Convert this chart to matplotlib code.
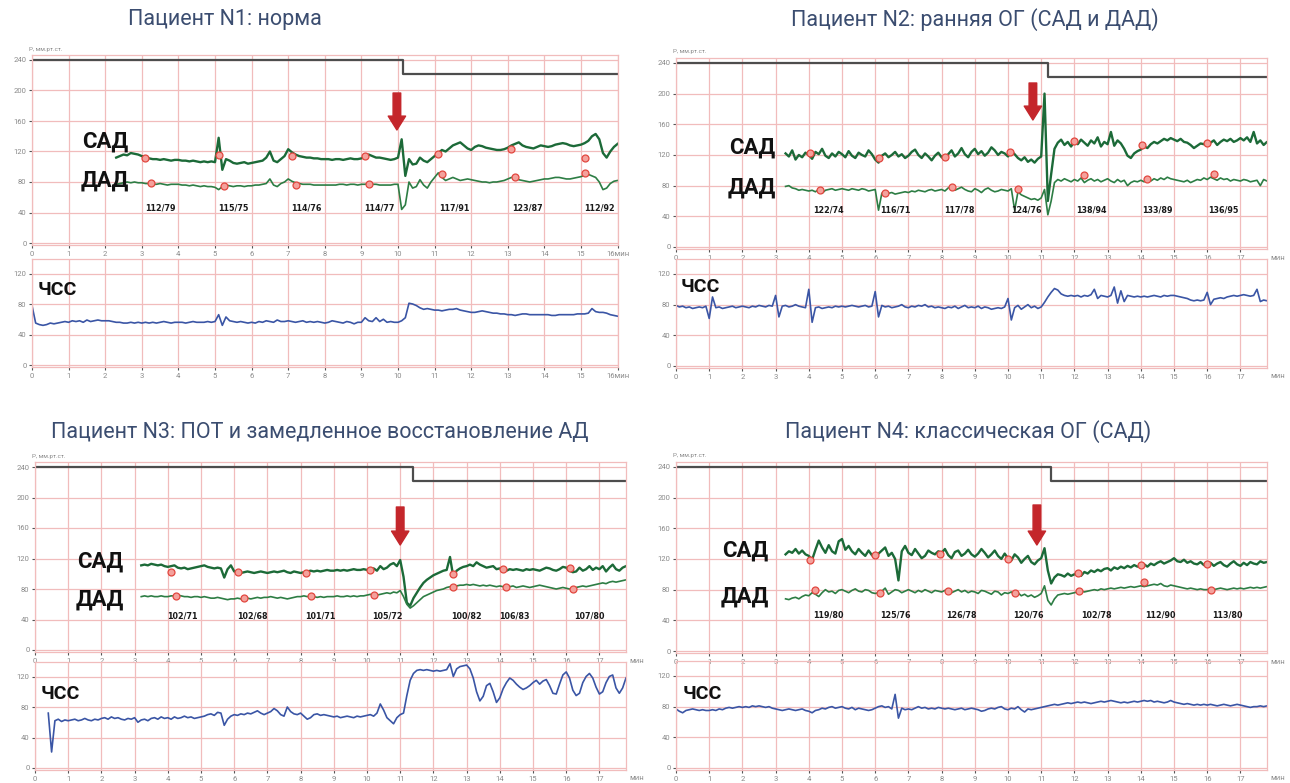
import numpy as np
import matplotlib
matplotlib.use('Agg')
import matplotlib.pyplot as plt

W, H = 1290, 783
DT = 0.1  # sampling step of traces, minutes

plt.rcParams['font.family'] = ['Roboto', 'DejaVu Sans']

titles = ['Пациент N1: норма',
          'Пациент N2: ранняя ОГ (САД и ДАД)',
          'Пациент N3: ПОТ и замедленное восстановление АД',
          'Пациент N4: классическая ОГ (САД)']

# ---------------- patient 1 ----------------
p1_bp_start = 2.3
p1_sad = [112, 114, 116, 115, 118, 117, 116,
          114, 113, 111, 110, 110, 109, 110, 109, 108, 109,
          109, 108, 108, 107, 108, 107, 106, 107, 106, 107,
          106, 138, 96, 110, 108, 105, 104, 105, 106, 104,
          105, 106, 107, 108, 112, 120, 108, 106, 110, 114,
          123, 119, 116, 114, 113, 112, 112, 111, 111, 110,
          110, 110, 109, 110, 110, 109, 110, 111, 110, 110,
          111, 113, 116, 114, 112, 112, 111, 110, 109, 110,
          112, 136, 88, 110, 103, 104, 112, 108, 106, 110,
          114, 118, 122, 120, 124, 128, 130, 132, 128, 124,
          122, 126, 128, 127, 125, 124, 123, 122, 122, 123,
          125, 128, 130, 132, 128, 126, 125, 124, 126, 128,
          127, 126, 127, 129, 130, 131, 130, 128, 127, 128,
          129, 131, 134, 140, 143, 136, 118, 112, 120, 126,
          130]
p1_dad = [77, 78, 79, 80, 79, 80, 79,
          79, 78, 78, 77, 77, 78, 77, 76, 77, 77,
          77, 76, 76, 75, 76, 75, 74, 75, 74, 74,
          73, 70, 74, 76, 75, 74, 75, 75, 74, 75,
          75, 76, 76, 77, 78, 84, 76, 74, 78, 80,
          84, 81, 79, 78, 77, 77, 77, 76, 76, 76,
          76, 76, 76, 76, 77, 77, 76, 77, 77, 76,
          77, 77, 78, 77, 77, 76, 76, 76, 76, 77,
          77, 44, 50, 80, 72, 74, 83, 76, 72, 80,
          86, 92, 86, 82, 84, 86, 84, 82, 83, 84,
          83, 82, 81, 80, 80, 79, 80, 80, 81, 82,
          84, 86, 85, 83, 82, 81, 80, 81, 82, 83,
          84, 84, 85, 86, 86, 85, 84, 84, 85, 86,
          87, 89, 90, 88, 86, 80, 70, 72, 78, 81,
          82]
p1_hr_start = 0.0
p1_hr = [78, 55, 53, 52, 53, 55, 54, 55, 56, 57,
         56, 58, 57, 58, 56, 59, 57, 58, 59, 58,
         58, 58, 57, 56, 56, 55, 55, 56, 55, 56,
         55, 56, 55, 56, 55, 56, 57, 56, 55, 56,
         56, 56, 55, 56, 57, 56, 56, 56, 57, 56,
         57, 66, 52, 63, 58, 57, 56, 57, 56, 55,
         56, 55, 57, 56, 58, 57, 56, 59, 57, 57,
         58, 57, 56, 57, 58, 56, 57, 56, 57, 56,
         55, 56, 58, 57, 56, 55, 57, 56, 54, 56,
         56, 62, 58, 57, 62, 57, 60, 56, 57, 56,
         56, 58, 62, 81, 80, 78, 75, 73, 74, 73,
         72, 72, 71, 72, 73, 73, 74, 72, 71, 70,
         69, 69, 70, 71, 70, 69, 68, 68, 67, 67,
         66, 66, 65, 66, 67, 67, 66, 66, 66, 66,
         66, 66, 65, 65, 66, 66, 66, 66, 66, 67,
         67, 67, 68, 74, 70, 69, 69, 68, 66, 65,
         64]
p1_sad_mark_t = [3.1, 5.1, 7.1, 9.1, 11.1, 13.1, 15.1]
p1_dad_mark_t = [3.25, 5.25, 7.2, 9.2, 11.2, 13.2, 15.1]
p1_sad_mark = [112, 115, 114, 114, 117, 123, 112]
p1_dad_mark = [79, 75, 76, 77, 91, 87, 92]
p1_label_t = [3.5, 5.5, 7.5, 9.5, 11.55, 13.55, 15.5]
p1_tilt_t = [0, 10.15, 10.15, 16]
p1_tilt_v = [240, 240, 222, 222]

# ---------------- patient 2 ----------------
p2_bp_start = 3.3
p2_sad = [122, 118, 126, 114, 120, 117, 123,
          120, 115, 124, 121, 128, 119, 116, 122, 118, 124,
          121, 117, 125, 119, 116, 123, 120, 118, 126, 121,
          114, 110, 119, 122, 117, 120, 124, 118, 121, 116,
          119, 124, 127, 120, 116, 122, 118, 113, 119, 123,
          117, 115, 121, 126, 118, 122, 129, 121, 117, 124,
          128, 121, 125, 119, 123, 130, 126, 120, 124, 122,
          118, 125, 121, 116, 113, 117, 111, 114, 110, 115,
          118, 200, 60, 95, 128, 136, 140, 133, 137, 131,
          138, 134, 140, 136, 132, 139, 135, 143, 131, 137,
          134, 150, 132, 139, 135, 128, 119, 116, 122, 125,
          127, 131, 129, 134, 137, 135, 138, 141, 139, 142,
          140, 138, 141, 137, 136, 133, 129, 132, 135, 134,
          138, 136, 139, 133, 137, 140, 138, 141, 137, 139,
          142, 139, 143, 137, 150, 135, 139, 133, 137, 134]
p2_dad = [79, 80, 77, 76, 74, 75, 74,
          73, 74, 72, 75, 70, 74, 75, 76, 74, 75,
          76, 75, 74, 76, 75, 74, 76, 75, 73, 74,
          75, 48, 70, 73, 70, 71, 69, 70, 71, 72,
          71, 73, 72, 74, 73, 72, 74, 75, 73, 74,
          75, 73, 77, 79, 74, 76, 78, 75, 73, 72,
          76, 74, 71, 75, 77, 74, 72, 73, 75, 74,
          73, 76, 48, 72, 68, 66, 64, 62, 63, 61,
          64, 75, 42, 60, 84, 88, 86, 89, 87, 85,
          88, 86, 90, 84, 87, 89, 86, 88, 85, 87,
          89, 86, 84, 88, 85, 87, 80, 84, 86, 85,
          87, 85, 88, 86, 89, 87, 90, 88, 91, 89,
          88, 87, 86, 85, 87, 84, 86, 88, 87, 90,
          88, 91, 89, 87, 90, 88, 89, 86, 88, 87,
          86, 88, 87, 85, 86, 87, 80, 88, 86, 87]
p2_hr_start = 0.0
p2_hr = [79, 77, 78, 76, 77, 75, 76, 77, 76, 78,
         62, 90, 76, 77, 75, 76, 77, 78, 76, 77,
         78, 77, 76, 78, 77, 79, 78, 77, 79, 78,
         92, 64, 78, 79, 77, 78, 80, 78, 77, 76,
         100, 57, 76, 77, 75, 76, 77, 76, 78, 77,
         78, 77, 78, 79, 78, 77, 78, 79, 77, 78,
         97, 64, 79, 77, 78, 76, 77, 78, 80, 77,
         76, 78, 77, 79, 78, 80, 77, 78, 76, 77,
         76, 75, 77, 76, 78, 75, 77, 79, 76, 77,
         76, 78, 75, 77, 76, 74, 75, 76, 75, 77,
         88, 60, 76, 79, 74, 77, 80, 76, 78, 75,
         77, 83, 90, 96, 101, 99, 94, 92, 91, 92,
         91, 92, 90, 92, 91, 93, 100, 88, 92, 91,
         90, 92, 103, 82, 98, 84, 92, 91, 90, 91,
         90, 91, 90, 91, 92, 91, 90, 92, 91, 92,
         92, 91, 90, 89, 88, 86, 85, 86, 85, 86,
         96, 80, 87, 88, 89, 88, 90, 91, 92, 91,
         92, 93, 92, 91, 92, 100, 84, 86, 85, 89]
p2_sad_mark_t = [4.05, 6.1, 8.1, 10.05, 12.0, 14.05, 16.0]
p2_dad_mark_t = [4.35, 6.3, 8.3, 10.3, 12.3, 14.2, 16.2]
p2_sad_mark = [122, 116, 117, 124, 138, 133, 136]
p2_dad_mark = [74, 71, 78, 76, 94, 89, 95]
p2_label_t = [4.6, 6.6, 8.55, 10.55, 12.5, 14.5, 16.5]
p2_tilt_t = [0, 11.2, 11.2, 17.8]
p2_tilt_v = [240, 240, 221, 221]

# ---------------- patient 3 ----------------
p3_bp_start = 3.2
p3_sad = [111, 112, 111, 113, 112, 111, 112, 110,
          109, 110, 111, 108, 107, 108, 106, 107, 108, 109,
          110, 111, 109, 108, 107, 108, 107, 95, 106, 111,
          103, 102, 101, 102, 103, 102, 101, 102, 103, 102,
          101, 102, 103, 102, 103, 104, 102, 101, 103, 102,
          101, 102, 103, 104, 103, 104, 103, 104, 105, 104,
          104, 105, 104, 105, 104, 105, 106, 105, 105, 106,
          105, 106, 107, 104, 110, 106, 108, 112, 114, 110,
          118, 96, 62, 58, 68, 75, 82, 88, 92, 95,
          98, 100, 102, 104, 105, 122, 96, 104, 107, 109,
          110, 112, 110, 115, 112, 110, 108, 109, 110, 106,
          107, 105, 104, 106, 105, 106, 105, 104, 106, 105,
          106, 105, 104, 106, 108, 107, 105, 104, 106, 109,
          108, 104, 102, 103, 108, 104, 106, 110, 105, 108,
          106, 110, 103, 108, 112, 106, 104, 108, 110, 112]
p3_dad = [70, 71, 70, 71, 70, 70, 71, 70,
          70, 71, 71, 72, 71, 70, 70, 69, 70, 70,
          69, 70, 69, 68, 68, 69, 68, 67, 66, 67,
          67, 68, 67, 68, 68, 67, 68, 69, 68, 69,
          69, 70, 69, 68, 69, 68, 67, 68, 69, 70,
          70, 71, 70, 71, 70, 69, 70, 69, 70, 70,
          70, 71, 70, 70, 71, 70, 71, 70, 71, 71,
          72, 73, 72, 72, 73, 74, 75, 74, 76, 75,
          78, 70, 60, 55, 58, 62, 66, 70, 72, 74,
          76, 78, 79, 80, 82, 83, 84, 84, 85, 85,
          86, 85, 86, 85, 84, 85, 84, 85, 84, 83,
          84, 83, 84, 83, 84, 82, 83, 84, 83, 82,
          83, 84, 85, 84, 83, 82, 81, 80, 81, 82,
          81, 80, 81, 82, 83, 84, 83, 84, 85, 86,
          87, 88, 87, 89, 90, 89, 90, 91, 92, 92]
p3_hr_start = 0.4
p3_hr = [72, 21, 62, 64, 61, 63,
         62, 63, 64, 62, 63, 65, 63, 62, 64, 63,
         65, 66, 64, 67, 65, 66, 64, 63, 65, 64,
         66, 60, 63, 64, 62, 65, 66, 64, 67, 65,
         66, 64, 67, 65, 66, 68, 66, 67, 65, 66,
         67, 68, 70, 71, 69, 73, 72, 56, 64, 68,
         70, 69, 71, 70, 72, 71, 73, 75, 72, 70,
         72, 74, 78, 75, 70, 68, 80, 74, 71, 70,
         72, 68, 64, 66, 70, 71, 69, 70, 69, 68,
         67, 68, 66, 67, 68, 67, 66, 68, 67, 68,
         69, 70, 68, 72, 84, 76, 66, 62, 58, 66,
         70, 72, 95, 115, 124, 128, 129, 128, 129, 128,
         127, 128, 127, 128, 129, 137, 120, 130, 133, 134,
         135, 130, 118, 100, 88, 94, 108, 111, 100, 86,
         92, 104, 112, 118, 115, 110, 106, 103, 105, 108,
         112, 115, 110, 114, 116, 108, 98, 97, 110, 122,
         126, 118, 102, 95, 98, 112, 120, 124, 118, 106,
         97, 100, 112, 120, 122, 105, 98, 105, 118, 124]
p3_sad_mark_t = [4.1, 6.1, 8.15, 10.1, 12.6, 14.1, 16.1]
p3_dad_mark_t = [4.25, 6.3, 8.3, 10.2, 12.6, 14.2, 16.2]
p3_sad_mark = [102, 102, 101, 105, 100, 106, 107]
p3_dad_mark = [71, 68, 71, 72, 82, 83, 80]
p3_label_t = [4.45, 6.55, 8.6, 10.6, 13.0, 14.45, 16.7]
p3_tilt_t = [0, 11.4, 11.4, 17.8]
p3_tilt_v = [240, 240, 222, 222]

# ---------------- patient 4 ----------------
p4_bp_start = 3.3
p4_sad = [126, 130, 128, 133, 127, 131, 126,
          124, 119, 132, 144, 135, 128, 138, 130, 127, 143,
          146, 132, 137, 130, 126, 133, 128, 124, 131, 125,
          122, 127, 131, 135, 124, 128, 120, 92, 130, 137,
          128, 125, 133, 127, 121, 124, 131, 128, 126, 130,
          128, 133, 125, 121, 129, 131, 124, 127, 132, 126,
          123, 127, 133, 128, 122, 126, 131, 124, 120, 127,
          121, 118, 126, 122, 115, 120, 124, 116, 113, 118,
          121, 134, 105, 88, 96, 100, 99, 97, 101, 98,
          100, 102, 98, 103, 101, 105, 103, 106, 104, 107,
          108, 105, 109, 107, 110, 108, 111, 109, 112, 110,
          111, 113, 110, 114, 112, 115, 117, 114, 116, 118,
          121, 117, 116, 119, 115, 117, 114, 113, 116, 112,
          113, 115, 111, 114, 116, 112, 110, 114, 117, 113,
          111, 115, 112, 116, 114, 113, 117, 115, 116, 118]
p4_dad = [68, 67, 69, 70, 68, 71, 73,
          72, 76, 74, 71, 76, 80, 77, 78, 75, 79,
          80, 78, 76, 79, 81, 78, 77, 80, 79, 76,
          75, 76, 78, 82, 74, 77, 80, 79, 76, 78,
          80, 78, 76, 79, 77, 80, 78, 76, 79, 78,
          77, 79, 81, 76, 78, 80, 77, 79, 76, 78,
          77, 75, 79, 78, 76, 74, 78, 77, 73, 76,
          75, 77, 73, 76, 72, 74, 71, 73, 70, 72,
          75, 85, 66, 60, 68, 73, 74, 75, 74, 75,
          76, 77, 78, 77, 78, 79, 80, 79, 81, 80,
          81, 82, 81, 82, 83, 82, 83, 84, 83, 84,
          85, 84, 85, 86, 87, 86, 88, 85, 84, 86,
          85, 84, 83, 82, 81, 82, 81, 80, 81, 80,
          80, 81, 80, 81, 82, 81, 80, 81, 82, 81,
          82, 81, 82, 83, 82, 83, 82, 83, 84, 84]
p4_hr_start = 0.0
p4_hr = [77, 74, 72, 75, 76, 77, 76, 75, 76, 75,
         75, 76, 75, 77, 76, 78, 79, 78, 79, 80,
         79, 80, 79, 81, 80, 81, 80, 79, 80, 78,
         77, 76, 75, 76, 77, 76, 75, 76, 77, 75,
         74, 72, 75, 76, 78, 77, 79, 80, 78, 79,
         80, 78, 77, 79, 76, 78, 77, 76, 75, 76,
         78, 80, 81, 79, 80, 77, 96, 65, 78, 76,
         77, 76, 78, 80, 78, 79, 77, 78, 77, 79,
         78, 77, 78, 77, 76, 77, 78, 76, 77, 78,
         77, 76, 74, 75, 77, 78, 77, 79, 80, 77,
         76, 78, 77, 80, 76, 73, 77, 76, 77, 78,
         79, 80, 81, 82, 83, 82, 83, 84, 85, 84,
         85, 86, 85, 86, 85, 84, 85, 86, 87, 86,
         87, 88, 87, 86, 85, 86, 85, 86, 87, 86,
         87, 88, 87, 88, 86, 87, 86, 85, 86, 88,
         86, 85, 84, 83, 84, 83, 82, 83, 82, 83,
         82, 83, 82, 81, 82, 83, 82, 81, 82, 83,
         82, 81, 80, 79, 80, 80, 81, 80, 81, 81]
p4_sad_mark_t = [4.05, 6.0, 7.95, 10.0, 12.1, 14.0, 16.0]
p4_dad_mark_t = [4.2, 6.15, 8.2, 10.2, 12.15, 14.1, 16.1]
p4_sad_mark = [119, 125, 126, 120, 102, 112, 113]
p4_dad_mark = [80, 76, 78, 76, 78, 90, 80]
p4_label_t = [4.6, 6.6, 8.6, 10.6, 12.65, 14.6, 16.6]
p4_tilt_t = [0, 11.3, 11.3, 17.8]
p4_tilt_v = [240, 240, 221, 221]

# arrow (orthostatic test start) x position and label heights
arrow_t = [9.97, 10.75, 11.0, 10.87]
label_y = [46, 48, 44, 47]

# ---------------- layout (pixels) ----------------
# x0 px of minute 0, px per minute, xmax, bp zero px, hr zero px, px per unit
layout = [
    dict(x0=32, ppm=36.6, xmax=16, bp0=243, hr0=365, ppu=0.7625, title=(225, 20),
         sad_lbl=(105, 142), dad_lbl=(105, 181), hr_lbl=(57, 290), arrow=(93, 130)),
    dict(x0=676, ppm=33.2, xmax=17.8, bp0=247, hr0=366, ppu=0.767, title=(975, 20),
         sad_lbl=(752, 148), dad_lbl=(752, 188), hr_lbl=(700, 287), arrow=(83, 120)),
    dict(x0=35, ppm=33.2, xmax=17.8, bp0=650, hr0=768, ppu=0.7625, title=(320, 432),
         sad_lbl=(100, 562), dad_lbl=(100, 600), hr_lbl=(60, 694), arrow=(507, 545)),
    dict(x0=676, ppm=33.2, xmax=17.8, bp0=651, hr0=768, ppu=0.767, title=(968, 432),
         sad_lbl=(745, 551), dad_lbl=(745, 597), hr_lbl=(702, 694), arrow=(505, 545)),
]

panels = [
    (p1_bp_start, p1_sad, p1_dad, p1_hr_start, p1_hr, p1_sad_mark_t, p1_dad_mark_t,
     p1_sad_mark, p1_dad_mark, p1_label_t, p1_tilt_t, p1_tilt_v),
    (p2_bp_start, p2_sad, p2_dad, p2_hr_start, p2_hr, p2_sad_mark_t, p2_dad_mark_t,
     p2_sad_mark, p2_dad_mark, p2_label_t, p2_tilt_t, p2_tilt_v),
    (p3_bp_start, p3_sad, p3_dad, p3_hr_start, p3_hr, p3_sad_mark_t, p3_dad_mark_t,
     p3_sad_mark, p3_dad_mark, p3_label_t, p3_tilt_t, p3_tilt_v),
    (p4_bp_start, p4_sad, p4_dad, p4_hr_start, p4_hr, p4_sad_mark_t, p4_dad_mark_t,
     p4_sad_mark, p4_dad_mark, p4_label_t, p4_tilt_t, p4_tilt_v),
]

GRID = '#f1bcbc'
SAD_C = '#1c6a38'
DAD_C = '#2d7d44'
HR_C = '#3a55a5'
ARROW_C = '#c4262b'
TITLE_C = '#3b4d70'


def trace_t(start, vals):
    return start + DT * np.arange(len(vals))


def px_axes(fig, left, top, right, bottom):
    ax = fig.add_axes([left / W, 1 - bottom / H, (right - left) / W, (bottom - top) / H])
    ax.patch.set_visible(False)
    return ax


def style_axes(ax, xmax, yticks, xlabels):
    ax.set_xlim(0, xmax)
    ax.set_xticks(range(len(xlabels)))
    ax.set_xticklabels(xlabels)
    ax.set_yticks(yticks)
    ax.grid(True, color=GRID, lw=0.9)
    ax.set_axisbelow(True)
    for s in ax.spines.values():
        s.set_color(GRID)
        s.set_linewidth(0.9)
    ax.tick_params(axis='both', length=2.5, width=0.8, color='#555555',
                   labelsize=5.5, labelcolor='#8a8a8a', pad=1.5)


def ftext(x, y, s, **kw):
    return plt.gcf().text(x / W, 1 - y / H, s, **kw)


fig = plt.figure(figsize=(W / 100, H / 100), dpi=100)

for i, (cfg, pdata) in enumerate(zip(layout, panels)):
    (bp_start, sad, dad, hr_start, hr, sad_mt, dad_mt, sad_m, dad_m,
     lab_t, tilt_t, tilt_v) = pdata
    x0, ppm, xmax, ppu = cfg['x0'], cfg['ppm'], cfg['xmax'], cfg['ppu']
    left, right = x0, x0 + ppm * xmax
    bp_lim = (-3, 246)
    hr_lim = (-3, 139)

    if xmax == 16:
        xlabels = [str(k) for k in range(16)] + ['16мин']
    else:
        xlabels = [str(k) for k in range(18)]

    # ---- blood pressure ----
    ax = px_axes(fig, left, cfg['bp0'] - ppu * bp_lim[1], right, cfg['bp0'] - ppu * bp_lim[0])
    ax.set_ylim(*bp_lim)
    style_axes(ax, xmax, [0, 40, 80, 120, 160, 200, 240], xlabels)
    ax.plot(tilt_t, tilt_v, color='#4d4d4d', lw=1.6)
    ax.plot(trace_t(bp_start, sad), sad, color=SAD_C, lw=1.7)
    ax.plot(trace_t(bp_start, dad), dad, color=DAD_C, lw=1.2)
    ax.plot(sad_mt, sad_m, 'o', ms=5, mfc='#f4a19c', mec='#e2473f', mew=0.9)
    ax.plot(dad_mt, dad_m, 'o', ms=5, mfc='#f4a19c', mec='#e2473f', mew=0.9)
    for t, s, d in zip(lab_t, sad_m, dad_m):
        ax.text(t, label_y[i], f'{s}/{d}', ha='center', va='center', fontsize=5.8,
                fontweight='bold', family=['DejaVu Sans'], color='#1a1a1a')
    a_top, a_bot = cfg['arrow']
    ax.annotate('', xy=(arrow_t[i], (cfg['bp0'] - a_bot) / ppu),
                xytext=(arrow_t[i], (cfg['bp0'] - a_top) / ppu),
                arrowprops=dict(arrowstyle='simple,head_length=1.0,head_width=1.25,tail_width=0.55',
                                fc=ARROW_C, ec=ARROW_C, mutation_scale=10, shrinkA=0, shrinkB=0))
    ax.text(-0.005, 1.02, 'P, мм.рт.ст.', transform=ax.transAxes, fontsize=4.5,
            color='#8a8a8a', ha='left', va='bottom')
    if xmax != 16:
        ax.text(1.006, -0.03, 'мин', transform=ax.transAxes, fontsize=5.5,
                color='#8a8a8a', ha='left', va='top')

    # ---- heart rate ----
    axh = px_axes(fig, left, cfg['hr0'] - ppu * hr_lim[1], right, cfg['hr0'] - ppu * hr_lim[0])
    axh.set_ylim(*hr_lim)
    style_axes(axh, xmax, [0, 40, 80, 120], xlabels)
    axh.plot(trace_t(hr_start, hr), hr, color=HR_C, lw=1.2)
    if xmax != 16:
        axh.text(1.006, -0.04, 'мин', transform=axh.transAxes, fontsize=5.5,
                 color='#8a8a8a', ha='left', va='top')

    # ---- texts ----
    ftext(*cfg['title'], titles[i], ha='center', va='center', fontsize=15.5,
          color=TITLE_C)
    ftext(*cfg['sad_lbl'], 'САД', ha='center', va='center', fontsize=16,
          fontweight='bold', color='#111111')
    ftext(*cfg['dad_lbl'], 'ДАД', ha='center', va='center', fontsize=16,
          fontweight='bold', color='#111111')
    ftext(*cfg['hr_lbl'], 'ЧСС', ha='center', va='center', fontsize=14,
          fontweight='bold', color='#111111')

fig.savefig('out.png', dpi=100, facecolor='white')
